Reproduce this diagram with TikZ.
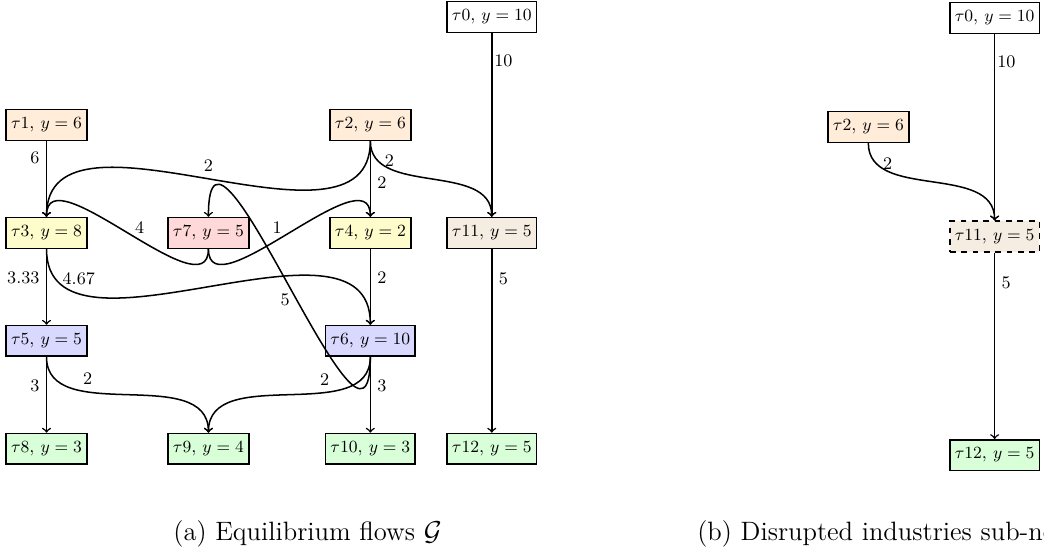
\documentclass[tikz,border=0pt]{standalone}
\usetikzlibrary{positioning}
\begin{document}
\begin{tikzpicture}[node distance=2cm, font=\fontsize{9.3}{11}\selectfont]
    \tikzstyle{industry} = [rectangle, draw=black, thick, inner xsep=2.6pt, inner ysep=4.3pt]
    \tikzstyle{flow} = [thick, ->]
    \tikzstyle{caption} = [font=\fontsize{14}{16.5}\selectfont, inner sep=0pt, anchor=base west]

    \useasboundingbox (0,0) rectangle (19.345,-10.229);
    \clip (0,0) rectangle (19.345,-10.229);

    % Nodes (a)
    \node (t1) [industry, fill=orange!15] at (0.862,-2.316) {$\tau1$, $y=6$};
    \node (t3) [industry, fill=yellow!20, below of=t1] {$\tau3$, $y=8$};
    \node (t5) [industry, fill=blue!15, below of=t3] {$\tau5$, $y=5$};
    \node (t8) [industry, fill=green!15, below of=t5] {$\tau8$, $y=3$};
    \node (t7) [industry, fill=red!15, right of=t3, node distance=3cm] {$\tau7$, $y=5$};
    \node (t9) [industry, fill=green!15, right of=t8, node distance=3cm] {$\tau9$, $y=4$};
    \node (t4) [industry, fill=yellow!20, right of=t7, node distance=3cm] {$\tau4$, $y=2$};
    \node (t2) [industry, fill=orange!15, above of=t4] {$\tau2$, $y=6$};
    \node (t6) [industry, fill=blue!15, below of=t4] {$\tau6$, $y=10$};
    \node (t10) [industry, fill=green!15, below of=t6] {$\tau10$, $y=3$};
    \node (t11) [industry, fill=brown!15, right of=t4, node distance=2.25cm] {$\tau11$, $y=5$};
    \node (t0) [industry, above of=t11, node distance=4cm] {$\tau0$, $y=10$};
    \node (t12) [industry, fill=green!15, below of=t11, node distance=4cm] {$\tau12$, $y=5$};

    % Arrows (a)
    \draw [flow] (t0) -- node[right, pos=0.15, inner sep=1pt] {10} (t11);
    \draw [flow] (t11) -- node[right, pos=0.16] {5} (t12);
    \draw [flow] (t1) -- node[left, pos=0.22] {6} (t3);
    \draw [flow] (t2.south) to[out=-90, in=90] node[above] {2} (t3.north);
    \draw [flow] (t2) -- node[right, pos=0.55] {2} (t4);
    \draw [flow] (t2.south) to[out=-90, in=90] node[right, pos=0.15] {2} (t11.north);
    \draw [flow] (t7.south) to[out=-90, in=90] node[above, pos=0.45] {4} (t3.north);
    \draw [flow] (t7.south) to[out=-90, in=90] node[above, pos=0.45] {1} (t4.north);
    \draw [flow] (t3) -- node[left, pos=0.38] {3.33} (t5);
    \draw [flow] (t3.south) to[out=-90, in=90] node[right, pos=0.1] {4.67} (t6.north);
    \draw [flow] (t4) -- node[right, pos=0.38] {2} (t6);
    \draw [flow] (t6.south) to[out=-90, in=90, looseness=1.8] node[left, pos=0.47] {5} (t7.north);
    \draw [flow] (t6.south) to[out=-90, in=90] node[above, pos=0.35] {2} (t9.north);
    \draw [flow] (t5) -- node[left, pos=0.38] {3} (t8);
    \draw [flow] (t5.south) to[out=-90, in=90] node[above, pos=0.33] {2} (t9.north);
    \draw [flow] (t6) -- node[right, pos=0.38] {3} (t10);

    % Nodes (b)
    \node (b0) [industry] at (18.43,-0.334) {$\tau0$, $y=10$};
    \node (b11) [industry, fill=brown!15, dashed, below of=b0, node distance=4.05cm] {$\tau11$, $y=5$};
    \node (b12) [industry, fill=green!15, below of=b11, node distance=4.05cm] {$\tau12$, $y=5$};
    \node (b2) [industry, fill=orange!15, left of=b11, node distance=2.34cm, yshift=2.03cm] {$\tau2$, $y=6$};

    % Arrows (b)
    \draw [flow] (b0) -- node[right, pos=0.15, inner sep=1pt] {10} (b11);
    \draw [flow] (b2.south) to[out=-90, in=90] node[right, pos=0.15] {2} (b11.north);
    \draw [flow] (b11) -- node[right, pos=0.16] {5} (b12);

    % Captions
    \node (capa) [caption] at (3.206,-10.006) {(a) Equilibrium flows $\mathcal{G}$};
    \node (capb) [caption] at (12.915,-10.006) {(b) Disrupted industries sub-network};
\end{tikzpicture}
\end{document}
